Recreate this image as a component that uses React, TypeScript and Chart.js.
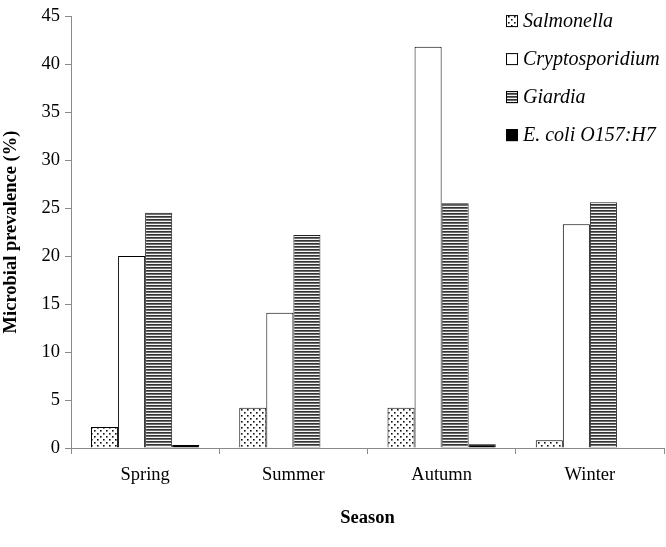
import { useEffect, useRef } from "react";
import { Chart, registerables } from "chart.js";
Chart.register(...registerables);

const seasons = ["Spring", "Summer", "Autumn", "Winter"];
const seriesNames = ["Salmonella", "Cryptosporidium", "Giardia", "E. coli O157:H7"];
const salmonella = [2.2, 4.2, 4.2, 0.8];
const cryptosporidium = [20.0, 14.1, 41.8, 23.3];
const giardia = [24.5, 22.2, 25.5, 25.6];
const ecoli = [0.3, 0, 0.4, 0];
const yMin = 0;
const yMax = 45;
const yStep = 5;

const FONT = '"Liberation Serif", "Times New Roman", serif';

function makeDots(): CanvasPattern | string {
  const c = document.createElement("canvas");
  c.width = 6;
  c.height = 6;
  const g = c.getContext("2d");
  if (!g) return "#fff";
  g.fillStyle = "#fff";
  g.fillRect(0, 0, 6, 6);
  g.fillStyle = "#111";
  g.fillRect(1, 1, 1.6, 1.6);
  g.fillRect(4, 4, 1.6, 1.6);
  return g.createPattern(c, "repeat") || "#fff";
}

function makeStripes(): CanvasPattern | string {
  const c = document.createElement("canvas");
  c.width = 4;
  c.height = 3;
  const g = c.getContext("2d");
  if (!g) return "#888";
  g.fillStyle = "#f4f4f4";
  g.fillRect(0, 0, 4, 3);
  g.fillStyle = "#333";
  g.fillRect(0, 0, 4, 1.7);
  return g.createPattern(c, "repeat") || "#888";
}

const legendPlugin = {
  id: "insideLegend",
  afterDraw(chart: any) {
    const { ctx, chartArea } = chart;
    const x0 = chartArea.right - 158;
    chart.data.datasets.forEach((ds: any, i: number) => {
      const cy = chartArea.top + 5 + i * 38;
      ctx.save();
      ctx.fillStyle = ds.backgroundColor;
      ctx.fillRect(x0, cy - 6, 12, 12);
      ctx.strokeStyle = "#000";
      ctx.lineWidth = 1;
      ctx.strokeRect(x0 + 0.5, cy - 5.5, 11, 11);
      ctx.font = `italic 20px ${FONT}`;
      ctx.fillStyle = "#000";
      ctx.textBaseline = "middle";
      ctx.textAlign = "left";
      ctx.fillText(ds.label, x0 + 17, cy + 1);
      ctx.restore();
    });
  },
};

export default function App() {
  const ref = useRef<HTMLCanvasElement | null>(null);
  useEffect(() => {
    if (!ref.current) return;
    const dots = makeDots();
    const stripes = makeStripes();
    const values = [salmonella, cryptosporidium, giardia, ecoli];
    const fills = [dots, "#ffffff", stripes, "#000000"];
    const chart = new Chart(ref.current, {
      type: "bar",
      data: {
        labels: seasons,
        datasets: seriesNames.map((name, i) => ({
          label: name,
          data: values[i],
          backgroundColor: fills[i] as any,
          borderColor: i === 2 ? "#222" : "#000",
          borderWidth: 1,
          borderSkipped: "start" as const,
          categoryPercentage: 0.73,
          barPercentage: 1,
        })),
      },
      options: {
        animation: false,
        responsive: true,
        maintainAspectRatio: false,
        layout: { padding: { top: 15, right: 2, left: 0, bottom: 18 } },
        plugins: {
          legend: { display: false },
          tooltip: { enabled: false },
        },
        scales: {
          x: {
            grid: {
              display: true,
              drawOnChartArea: false,
              drawTicks: true,
              tickLength: 6,
              color: "#8a8a8a",
              offset: true,
            },
            border: { display: true, color: "#8a8a8a", width: 1 },
            ticks: {
              color: "#000",
              font: { family: FONT, size: 18.5 },
              padding: 10,
            },
            title: {
              display: true,
              text: "Season",
              color: "#000",
              font: { family: FONT, size: 18.5, weight: "bold" },
              padding: { top: 10, bottom: 0 },
            },
            afterFit(scale: any) {
              scale.height = 81;
            },
          },
          y: {
            min: yMin,
            max: yMax,
            ticks: {
              stepSize: yStep,
              color: "#000",
              font: { family: FONT, size: 18.5 },
              padding: 5,
            },
            grid: {
              display: true,
              drawOnChartArea: false,
              drawTicks: true,
              tickLength: 6,
              color: "#8a8a8a",
            },
            border: { display: true, color: "#8a8a8a", width: 1 },
            title: {
              display: true,
              text: "Microbial prevalence (%)",
              color: "#000",
              font: { family: FONT, size: 18.5, weight: "bold" },
              padding: { top: 0, bottom: 4 },
            },
            afterFit(scale: any) {
              scale.width = 71;
            },
          },
        },
      },
      plugins: [legendPlugin],
    });
    return () => chart.destroy();
  }, []);
  return (
    <div style={{ position: "fixed", left: 0, top: 0, width: 666, height: 547, background: "#fff" }}>
      <canvas ref={ref} />
    </div>
  );
}
